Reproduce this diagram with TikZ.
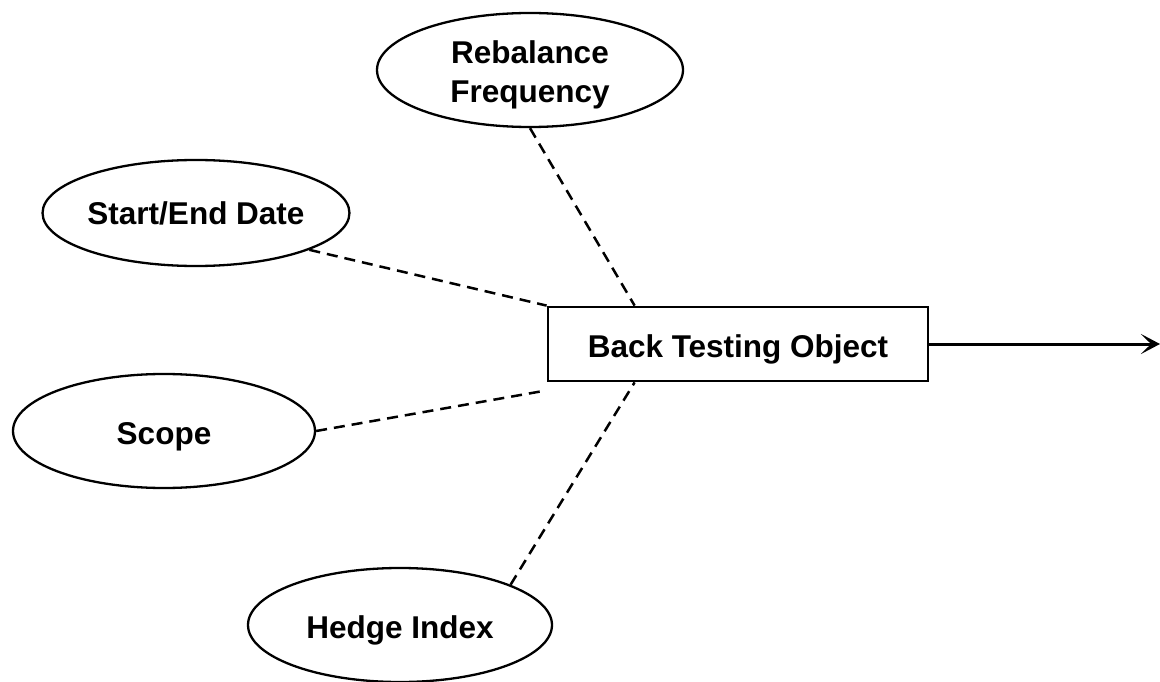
\documentclass[tikz,border=0pt]{standalone}
\usepackage{fontspec}
\setmainfont{Liberation Sans}
\usetikzlibrary{shapes.geometric,arrows.meta}
\tikzset{
  lbl/.style={font=\fontsize{31.5}{38.5}\selectfont\bfseries, align=center},
  oneline/.style={text height=30pt, text depth=3pt},
  ell/.style={lbl, ellipse, draw, line width=2.3pt, inner sep=0pt},
  objbox/.style={lbl, oneline, rectangle, draw, line width=2.8pt, minimum width=380pt, minimum height=74pt, inner sep=0pt},
  link/.style={line width=2.5pt, dash pattern=on 11pt off 7pt},
  flow/.style={line width=3pt, -{Stealth[length=19pt,width=20pt,inset=10pt]}}
}
\begin{document}
\begin{tikzpicture}[x=1pt,y=-1pt]
\useasboundingbox (0,0) rectangle (1160,682);
\node[ell, minimum width=306pt, minimum height=114pt] (reb) at (530,70) {\rule{0pt}{33pt}Rebalance\\Frequency};
\node[ell, minimum width=304pt, minimum height=106pt] (sed) at (196,213) {Start/End Date};
\node[ell, oneline, minimum width=302pt, minimum height=114pt] (scp) at (164,431) {Scope};
\node[ell, oneline, minimum width=304pt, minimum height=114pt] (hdg) at (400,625) {Hedge Index};
\node[objbox] (bto) at (738,344) {Back Testing Object};
\coordinate (out) at (1160,344);
\draw[link] (reb.south) -- ([xshift=88pt]bto.north west);
\draw[link] (sed.-18) -- (bto.north west);
\draw[link] (scp.east) -- ([yshift=-8pt]bto.south west);
\draw[link] (hdg.20) -- ([xshift=88pt]bto.south west);
\draw[flow] (bto.east) -- (out);
\end{tikzpicture}
\end{document}
